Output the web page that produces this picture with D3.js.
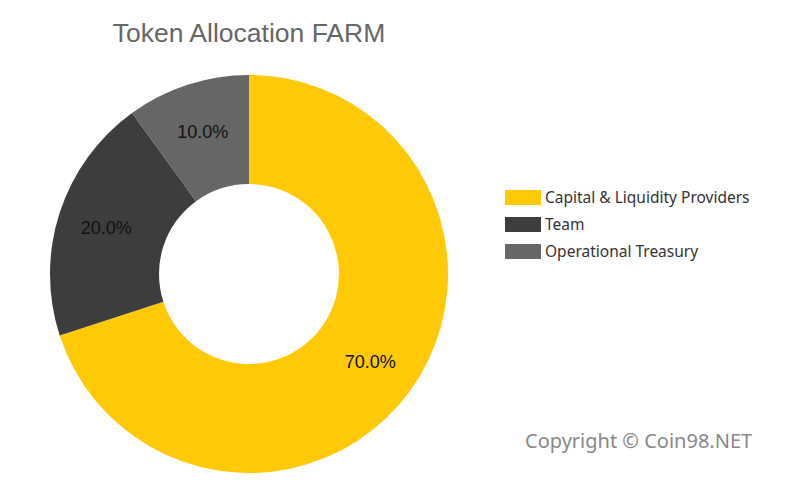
<!DOCTYPE html>
<html><head><meta charset="utf-8">
<script src="https://cdn.jsdelivr.net/npm/d3@7"></script>
<style>body{margin:0;background:#fff}</style>
</head><body>
<svg id="chart" width="800" height="500"></svg>
<script>
var categories = ["Capital & Liquidity Providers", "Team", "Operational Treasury"];
var values = [70, 20, 10];
var colors = ["#FFC906", "#3D3D3D", "#666666"];

var svg = d3.select("#chart");
svg.append("rect").attr("width", 800).attr("height", 500).attr("fill", "#fff");

svg.append("text").attr("x", 249).attr("y", 42).attr("text-anchor", "middle")
  .attr("font-family", "Arial, 'Liberation Sans', sans-serif").attr("font-size", 26.5)
  .attr("fill", "#666").text("Token Allocation FARM");

var cx = 249, cy = 274, rOuter = 199, rInner = 90;
var pie = d3.pie().sort(null).value(d => d);
var arc = d3.arc().innerRadius(rInner).outerRadius(rOuter);
var g = svg.append("g").attr("transform", "translate(" + cx + "," + cy + ")");
var arcs = pie(values);

g.selectAll("path").data(arcs).enter().append("path")
  .attr("d", arc).attr("fill", (d, i) => colors[i]);

var labelArc = d3.arc().innerRadius(150).outerRadius(150);
g.selectAll("text.lbl").data(arcs).enter().append("text")
  .attr("class", "lbl")
  .attr("transform", d => "translate(" + labelArc.centroid(d) + ")")
  .attr("text-anchor", "middle").attr("dy", "0.35em")
  .attr("font-family", "Arial, 'Liberation Sans', sans-serif").attr("font-size", 18)
  .attr("fill", "#111")
  .text(d => d.value.toFixed(1) + "%");

var legend = svg.append("g").attr("transform", "translate(505,190)");
categories.forEach(function (c, i) {
  var row = legend.append("g").attr("transform", "translate(0," + (i * 27) + ")");
  row.append("rect").attr("width", 36).attr("height", 15).attr("fill", colors[i]);
  row.append("text").attr("x", 40).attr("y", 13)
    .attr("font-family", "'Noto Sans', 'Open Sans', sans-serif").attr("font-size", 15.5)
    .attr("fill", "#333").text(c);
});

svg.append("text").attr("x", 525).attr("y", 448)
  .attr("font-family", "'Noto Sans', 'Open Sans', sans-serif").attr("font-size", 20)
  .attr("fill", "#888").text("Copyright © Coin98.NET");
</script>
</body></html>
